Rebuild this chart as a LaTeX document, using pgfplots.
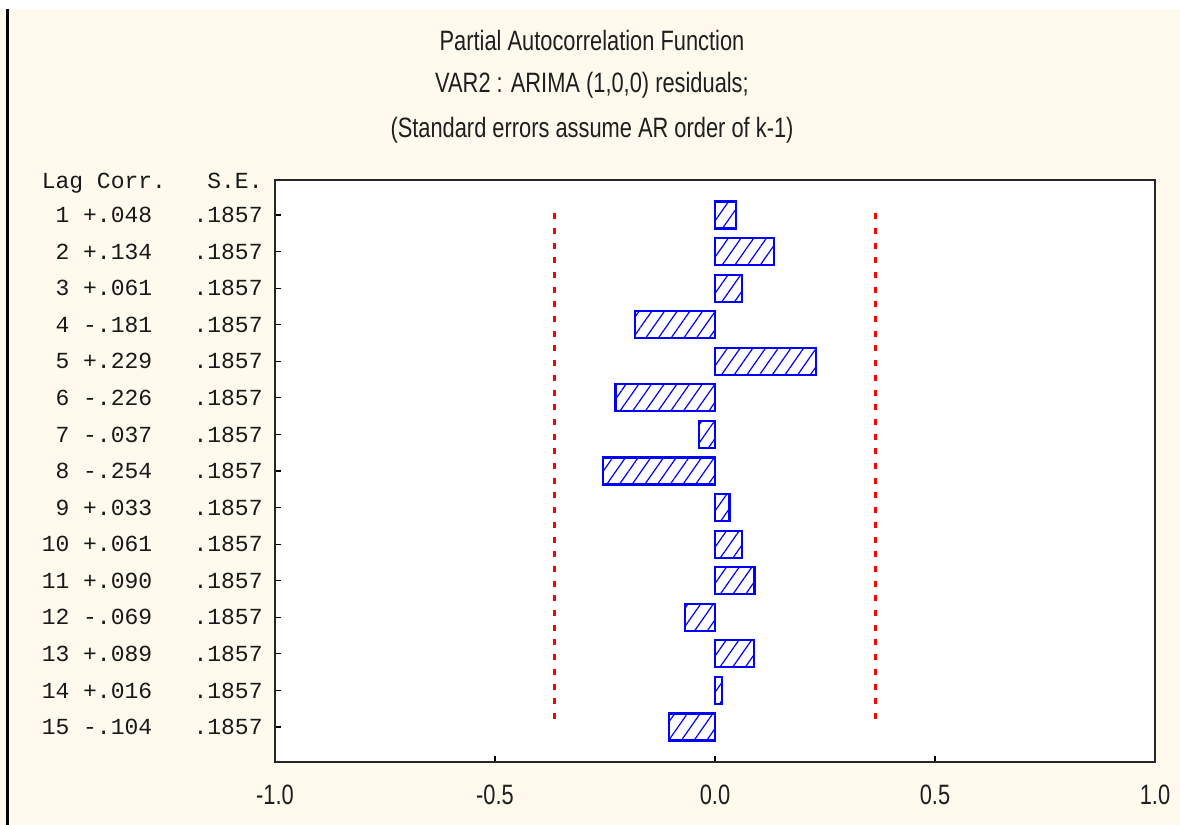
\documentclass[border=0pt]{standalone}
\usepackage{fontspec}
\setmainfont{Liberation Sans}
\setmonofont{Liberation Mono}
\newfontfamily\narrow{Liberation Sans}[FakeStretch=0.78]
\usepackage{pgfplots}
\pgfplotsset{compat=1.18}
\usetikzlibrary{patterns.meta}
\definecolor{cream}{HTML}{FFF9EE}
\newcommand\ts{\phantom{0}}
\begin{document}
\begin{tikzpicture}
\path[use as bounding box] (0,0) rectangle (590pt,412.5pt);
\fill[white] (0,0) rectangle (590pt,412.5pt);
\fill[cream] (0,0) rectangle (590pt,408pt);
\draw[line width=1.5pt] (3.75pt,0) -- (3.75pt,408pt);
\node[font=\narrow\fontsize{14pt}{16pt}\selectfont, text=black!88] at (296pt,392.5pt) {Partial Autocorrelation Function};
\node[font=\narrow\fontsize{14pt}{16pt}\selectfont, text=black!88] at (296pt,370pt) {VAR2 : ARIMA (1,0,0) residuals;};
\node[font=\narrow\fontsize{14pt}{16pt}\selectfont, text=black!88] at (296pt,347.5pt) {(Standard errors assume AR order of k-1)};
\begin{axis}[
 at={(137.5pt,31.5pt)}, anchor=south west,
 scale only axis, width=440pt, height=291pt,
 xmin=-1, xmax=1, ymin=0.043, ymax=15.957, y dir=reverse,
 axis background/.style={fill=white},
 axis line style={line width=0.9pt, black!85},
 xtick={-1,-0.5,0,0.5,1}, xticklabels={-1.0,-0.5,0.0,0.5,1.0},
 ytick={1,...,15},
 yticklabels={
 {\ts1\ts+.048\ts\ts\ts.1857},
 {\ts2\ts+.134\ts\ts\ts.1857},
 {\ts3\ts+.061\ts\ts\ts.1857},
 {\ts4\ts-.181\ts\ts\ts.1857},
 {\ts5\ts+.229\ts\ts\ts.1857},
 {\ts6\ts-.226\ts\ts\ts.1857},
 {\ts7\ts-.037\ts\ts\ts.1857},
 {\ts8\ts-.254\ts\ts\ts.1857},
 {\ts9\ts+.033\ts\ts\ts.1857},
 {10\ts+.061\ts\ts\ts.1857},
 {11\ts+.090\ts\ts\ts.1857},
 {12\ts-.069\ts\ts\ts.1857},
 {13\ts+.089\ts\ts\ts.1857},
 {14\ts+.016\ts\ts\ts.1857},
 {15\ts-.104\ts\ts\ts.1857}},
 tick align=inside, xtick pos=bottom, ytick pos=left,
 major tick length=3pt,
 tick style={black, line width=0.6pt},
 xticklabel style={font=\narrow\fontsize{14pt}{16pt}\selectfont, yshift=-8pt, text=black!88},
 yticklabel style={font=\ttfamily\fontsize{11.5pt}{13pt}\selectfont, inner sep=0pt, xshift=-6pt, text=black!90},
 clip=false,
]
\addplot[xbar, bar width=0.74, draw=blue, line width=1.1pt, pattern={Lines[angle=55,distance=5.2pt,line width=0.6pt]}, pattern color=blue] coordinates {
(0.048,1) (0.134,2) (0.061,3) (-0.181,4) (0.229,5) (-0.226,6) (-0.037,7) (-0.254,8)
(0.033,9) (0.061,10) (0.090,11) (-0.069,12) (0.089,13) (0.016,14) (-0.104,15)};
\addplot[red, line width=1.5pt, dash pattern=on 3pt off 4.35pt] coordinates {(-0.364,0.95) (-0.364,14.8)};
\addplot[red, line width=1.5pt, dash pattern=on 3pt off 4.35pt] coordinates {(0.364,0.95) (0.364,14.8)};
\node[anchor=east, inner sep=0pt, font=\ttfamily\fontsize{11.5pt}{13pt}\selectfont, text=black!90, xshift=-6pt] at (axis cs:-1,0.12) {Lag\ts Corr.\ts\ts\ts S.E.};
\end{axis}
\end{tikzpicture}
\end{document}
